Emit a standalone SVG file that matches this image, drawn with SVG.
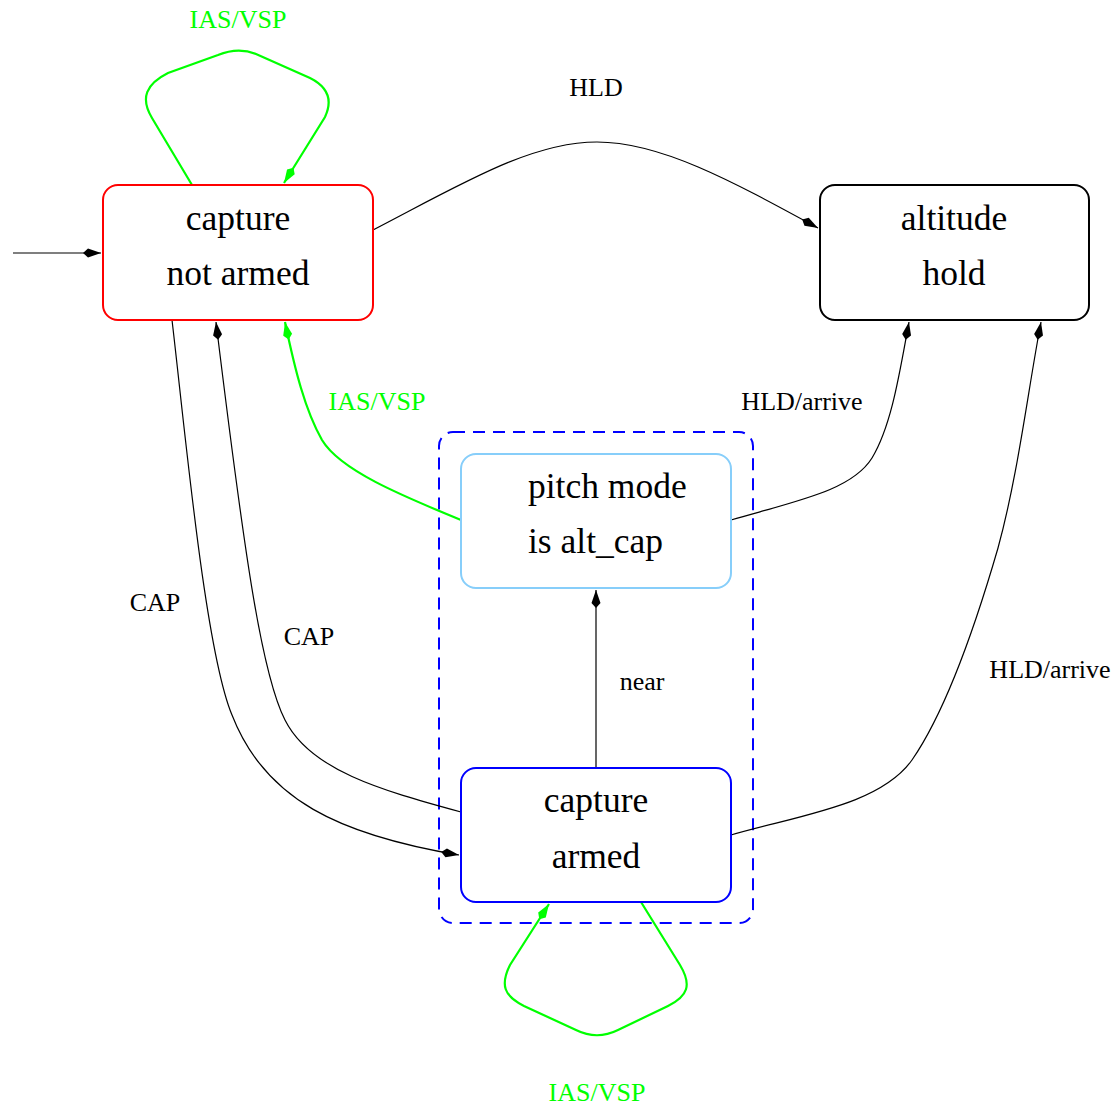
<svg xmlns="http://www.w3.org/2000/svg" width="1115" height="1107" viewBox="0 0 1115 1107">
<style>
.node rect{fill:#fff;stroke-width:2}
.nt{font-family:"Liberation Serif","Times New Roman",serif;font-size:35.5px;fill:#000}
.lbl{font-family:"Liberation Serif","Times New Roman",serif;font-size:26px;fill:#000;text-anchor:middle}
.g{fill:#00ff00}
.e{fill:none;stroke:#000;stroke-width:1.2}
.eg{fill:none;stroke:#00ff00;stroke-width:2.2}
</style>
<defs>
<marker id="ab" markerUnits="userSpaceOnUse" viewBox="-1 -6 20 12" refX="18" refY="0" markerWidth="20" markerHeight="12" orient="auto">
<path d="M0,0 L5,-4.5 L18,0 L5,4.5 Z" fill="#000"/>
</marker>
<marker id="ag" markerUnits="userSpaceOnUse" viewBox="-1 -6 20 12" refX="18" refY="0" markerWidth="20" markerHeight="12" orient="auto">
<path d="M0,0 L5,-4.5 L18,0 L5,4.5 Z" fill="#00ff00"/>
</marker>
</defs>
<rect width="1115" height="1107" fill="#fff"/>
<g id="cluster">
<rect x="439" y="432" width="314" height="491" rx="14" fill="none" stroke="#0000ff" stroke-width="2" stroke-dasharray="12,8"/>
</g>
<g id="connectors">
<path class="e" d="M13,253 L101,253" marker-end="url(#ab)"/>
<path class="eg" d="M192,185 L152,118 C140,98 146,84 168,73 L218,55 C230,50 244,49 256,54 L310,78 C330,88 332,102 325,117 L284,183" marker-end="url(#ag)"/>
<path class="e" d="M373,230 C460,185 530,142 597,142 C660,142 730,180 818,228" marker-end="url(#ab)"/>
<path class="e" d="M172,320 C185,430 205,650 232,715 C265,800 340,835 459,855" marker-end="url(#ab)"/>
<path class="e" d="M461,812 C380,790 310,770 285,720 C262,675 245,560 216,322" marker-end="url(#ab)"/>
<path class="eg" d="M461,520 C400,495 340,470 322,440 C305,410 295,370 285,322" marker-end="url(#ag)"/>
<path class="e" d="M731,520 C800,500 852,490 872,458 C892,425 900,370 909,322" marker-end="url(#ab)"/>
<path class="e" d="M596,768 L596,590" marker-end="url(#ab)"/>
<path class="e" d="M731,835 C800,815 880,805 912,760 C950,705 980,610 998,548 C1018,475 1028,390 1041,322" marker-end="url(#ab)"/>
<path class="eg" d="M641,902 L680,965 C692,985 688,996 668,1006 L618,1030 C604,1037 590,1037 576,1030 L524,1006 C504,996 500,985 510,965 L549,904" marker-end="url(#ag)"/>
<text class="lbl g" x="238" y="28">IAS/VSP</text>
<text class="lbl" x="596" y="96">HLD</text>
<text class="lbl g" x="377" y="410">IAS/VSP</text>
<text class="lbl" x="802" y="410">HLD/arrive</text>
<text class="lbl" x="155" y="611">CAP</text>
<text class="lbl" x="309" y="645">CAP</text>
<text class="lbl" x="642" y="690">near</text>
<text class="lbl" x="1050" y="678">HLD/arrive</text>
<text class="lbl g" x="597" y="1101">IAS/VSP</text>
</g>
<g id="capture_not_armed" class="node">
<rect x="103" y="185" width="270" height="135" rx="15" stroke="#ff0000"/>
<text class="nt" x="238" y="230" text-anchor="middle">capture</text>
<text class="nt" x="238" y="285" text-anchor="middle">not armed</text>
</g>
<g id="altitude_hold" class="node">
<rect x="820" y="185" width="269" height="135" rx="15" stroke="#000"/>
<text class="nt" x="954" y="230" text-anchor="middle">altitude</text>
<text class="nt" x="954" y="285" text-anchor="middle">hold</text>
</g>
<g id="pitch_mode" class="node">
<rect x="461" y="454" width="270" height="134" rx="15" stroke="#87cefa"/>
<text class="nt" x="528" y="498">pitch mode</text>
<text class="nt" x="528" y="553">is alt_cap</text>
</g>
<g id="capture_armed" class="node">
<rect x="461" y="768" width="270" height="134" rx="15" stroke="#0000ff"/>
<text class="nt" x="596" y="812" text-anchor="middle">capture</text>
<text class="nt" x="596" y="868" text-anchor="middle">armed</text>
</g>
</svg>
